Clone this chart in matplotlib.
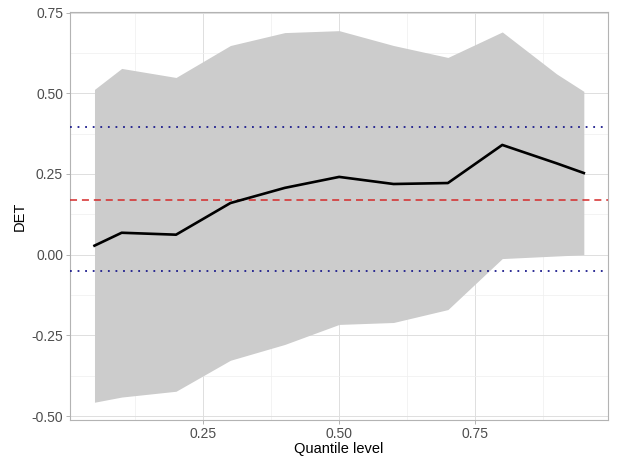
import numpy as np
import matplotlib.pyplot as plt

# quantile levels and estimates
quantile = [0.05, 0.10, 0.20, 0.30, 0.40, 0.50, 0.60, 0.70, 0.80, 0.90, 0.95]
det = [0.028, 0.068, 0.062, 0.160, 0.207, 0.241, 0.219, 0.222, 0.340, 0.283, 0.253]
upper = [0.512, 0.577, 0.549, 0.648, 0.688, 0.694, 0.648, 0.611, 0.690, 0.560, 0.506]
lower = [-0.457, -0.441, -0.423, -0.327, -0.278, -0.216, -0.210, -0.170, -0.012, -0.004, 0.000]

# reference lines
ci_high = 0.395
ols = 0.170
ci_low = -0.052

plt.rcParams['font.family'] = ['Liberation Sans', 'DejaVu Sans']

fig = plt.figure(figsize=(6.18, 4.59), dpi=100)
ax = fig.add_axes([0.1133, 0.085, 0.871, 0.889])

ax.fill_between(quantile, lower, upper, color='#cccccc', linewidth=0, zorder=2)
ax.plot(quantile, det, color='black', linewidth=1.9, zorder=4)

ax.axhline(ci_high, color='#1c1c8c', linestyle=(0, (1, 3.2)), linewidth=1.3, zorder=3)
ax.axhline(ci_low, color='#1c1c8c', linestyle=(0, (1, 3.2)), linewidth=1.3, zorder=3)
ax.axhline(ols, color='#d42a2a', linestyle=(0, (4.6, 3.2)), linewidth=1.1, zorder=3)

ax.set_xlim(0.005, 0.995)
ax.set_ylim(-0.512, 0.752)

ax.set_xticks([0.25, 0.50, 0.75])
ax.set_xticks([0.125, 0.375, 0.625, 0.875], minor=True)
ax.set_yticks([-0.50, -0.25, 0.00, 0.25, 0.50, 0.75])
ax.set_yticks([-0.375, -0.125, 0.125, 0.375, 0.625], minor=True)
ax.set_xticklabels(['0.25', '0.50', '0.75'])
ax.set_yticklabels(['-0.50', '-0.25', '0.00', '0.25', '0.50', '0.75'])

ax.grid(which='major', color='#dedede', linewidth=0.7, zorder=0)
ax.grid(which='minor', color='#efefef', linewidth=0.5, zorder=0)
ax.set_axisbelow(True)

for s in ax.spines.values():
    s.set_color('#b3b3b3')
    s.set_linewidth(0.8)

ax.tick_params(which='major', length=3, width=0.7, color='#b3b3b3',
               labelsize=10, labelcolor='#4d4d4d', pad=2)
ax.tick_params(which='minor', length=0)

ax.set_xlabel('Quantile level', fontsize=10.5, labelpad=1)
ax.set_ylabel('DET', fontsize=10.5, labelpad=3)

fig.savefig('out.png', dpi=100)
